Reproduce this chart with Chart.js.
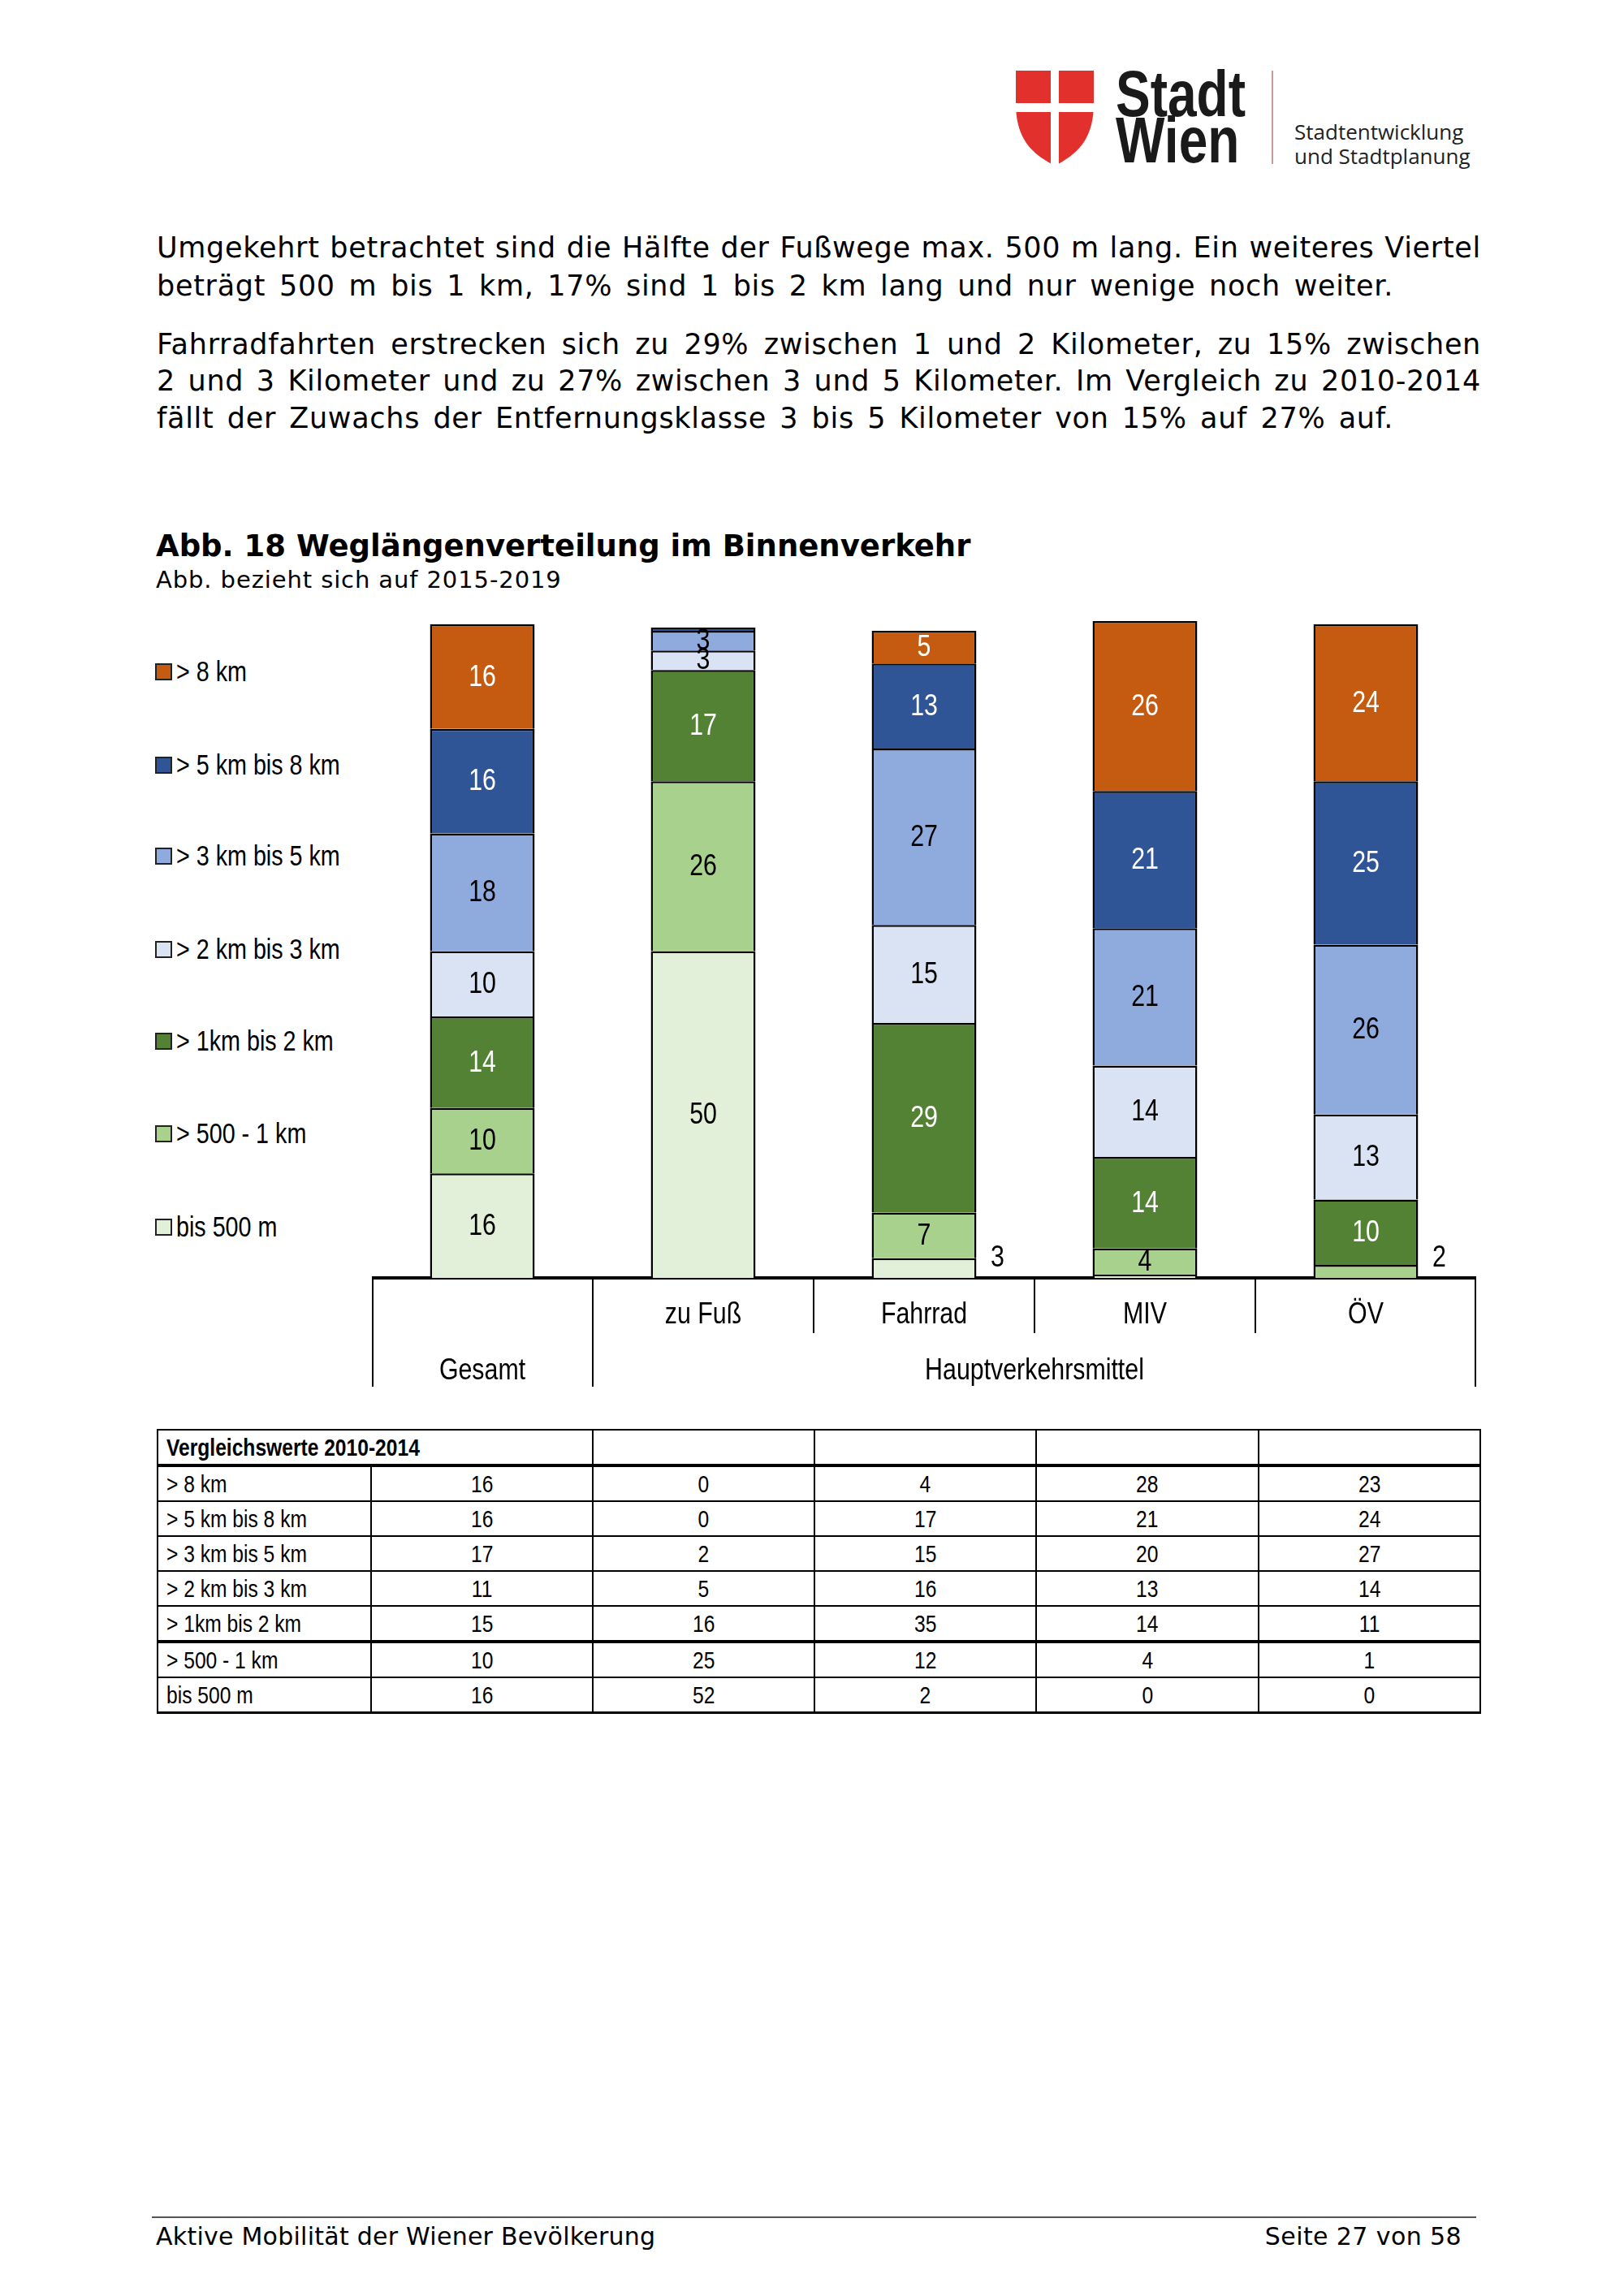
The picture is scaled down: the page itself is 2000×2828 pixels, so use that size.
<!DOCTYPE html>
<html>
<head>
<meta charset="utf-8">
<script src="https://cdn.jsdelivr.net/npm/chart.js@4.4.1/dist/chart.umd.min.js"></script>
<style>
  html, body { margin: 0; padding: 0; background: #fff; }
  body { width: 2000px; height: 2828px; position: relative; overflow: hidden; font-family: 'DejaVu Sans', Verdana, sans-serif; color: #000; }
  .abs { position: absolute; white-space: nowrap; }
  .txt { position: absolute; left: 193px; font-size: 35px; line-height: 45px; letter-spacing: 0.7px; white-space: nowrap; text-align: justify; text-align-last: justify; }
  .arial { font-family: 'Liberation Sans', Arial, sans-serif; }
  .nl { display: inline-block; transform: scaleX(0.82); transform-origin: left center; }
  .nc { display: inline-block; transform: scaleX(0.82); transform-origin: center center; }
  #legend .item { position: absolute; left: 191px; height: 40px; line-height: 40px; font-size: 35px; white-space: nowrap; }
  #legend .box { display: inline-block; width: 17px; height: 17px; border: 2px solid #222; vertical-align: middle; position: relative; top: -2px; }
  table { position: absolute; left: 193px; top: 1760px; border-collapse: collapse; table-layout: fixed; font-size: 30px; }
  td { border: 2px solid #000; height: 41px; padding: 0; text-align: center; line-height: 38px; overflow: visible; white-space: nowrap; }
  td.lab { text-align: left; padding-left: 10px; }
  tr.head td { border-bottom: 4px solid #000; font-weight: bold; }
  tr.thick td { border-bottom: 4px solid #000; }
  tr.last td { border-bottom: 3px solid #000; }
</style>
</head>
<body>

<!-- logo -->
<svg class="abs" style="left:1251px;top:87px" width="100" height="118" viewBox="0 0 100 118">
  <path d="M0 0 H96 V40 C96 80 80 100 52 115 H44 C16 100 0 80 0 40 Z" fill="#e2312c"/>
  <rect x="43" y="0" width="10" height="118" fill="#fff"/>
  <rect x="0" y="40" width="100" height="11" fill="#fff"/>
</svg>
<div class="abs arial" style="left:1374px;top:76px;font-size:80px;font-weight:bold;line-height:80px;color:#1a1a1a"><span class="nl" style="transform:scaleX(0.8)">Stadt</span></div>
<div class="abs arial" style="left:1374px;top:133px;font-size:80px;font-weight:bold;line-height:80px;color:#1a1a1a"><span class="nl" style="transform:scaleX(0.8)">Wien</span></div>
<div class="abs" style="left:1566px;top:87px;width:2px;height:115px;background:#c89a9a"></div>
<div class="abs" style="left:1594px;top:146px;font-family:'Open Sans',sans-serif;font-size:26px;line-height:32px;color:#222">Stadtentwicklung</div>
<div class="abs" style="left:1594px;top:176px;font-family:'Open Sans',sans-serif;font-size:26px;line-height:32px;color:#222">und Stadtplanung</div>

<!-- body text, each line justified to its width in the original -->
<div class="txt" style="top:283px;width:1631px">Umgekehrt betrachtet sind die Hälfte der Fußwege max. 500 m lang. Ein weiteres Viertel</div>
<div class="txt" style="top:330px;width:1523px">beträgt 500 m bis 1 km, 17% sind 1 bis 2 km lang und nur wenige noch weiter.</div>
<div class="txt" style="top:402px;width:1631px">Fahrradfahrten erstrecken sich zu 29% zwischen 1 und 2 Kilometer, zu 15% zwischen</div>
<div class="txt" style="top:447px;width:1631px">2 und 3 Kilometer und zu 27% zwischen 3 und 5 Kilometer. Im Vergleich zu 2010-2014</div>
<div class="txt" style="top:493px;width:1523px">fällt der Zuwachs der Entfernungsklasse 3 bis 5 Kilometer von 15% auf 27% auf.</div>

<div class="abs" style="left:192px;top:650px;font-size:37px;line-height:46px;font-weight:bold">Abb. 18 Weglängenverteilung im Binnenverkehr</div>
<div class="abs" style="left:192px;top:697px;font-size:29px;line-height:34px;letter-spacing:0.9px">Abb. bezieht sich auf 2015-2019</div>

<div id="legend" class="arial"></div>

<div class="abs" style="left:458px;top:750px;width:1360px;height:959px">
  <canvas id="chart"></canvas>
</div>

<table id="cmp" class="arial"></table>

<!-- footer -->
<div class="abs" style="left:187px;top:2730px;width:1631px;height:2px;background:#555"></div>
<div class="abs" style="left:192px;top:2737px;font-size:30px;line-height:36px;letter-spacing:0.25px">Aktive Mobilität der Wiener Bevölkerung</div>
<div class="abs" style="right:200px;top:2737px;font-size:30px;line-height:36px;letter-spacing:0.4px">Seite 27 von 58</div>

<script>
const tickLabels = ['', 'zu Fuß', 'Fahrrad', 'MIV', 'ÖV'];
const groupLabels = ['Gesamt', 'Hauptverkehrsmittel'];
const groupSpans = [[0, 0], [1, 4]];

const classes = ['bis 500 m', '> 500 - 1 km', '> 1km bis 2 km', '> 2 km bis 3 km', '> 3 km bis 5 km', '> 5 km bis 8 km', '> 8 km'];
const bis500 = [16, 50, 3, 0.5, 0];
const m500to1km = [10, 26, 7, 4, 2];
const km1to2 = [14, 17, 29, 14, 10];
const km2to3 = [10, 3, 15, 14, 13];
const km3to5 = [18, 3, 27, 21, 26];
const km5to8 = [16, 0.5, 13, 21, 25];
const over8 = [16, 0, 5, 26, 24];

// Vergleichswerte 2010-2014
const cmpRows = ['> 8 km', '> 5 km bis 8 km', '> 3 km bis 5 km', '> 2 km bis 3 km', '> 1km bis 2 km', '> 500 - 1 km', 'bis 500 m'];
const cmpGesamt = [16, 16, 17, 11, 15, 10, 16];
const cmpZuFuss = [0, 0, 2, 5, 16, 25, 52];
const cmpFahrrad = [4, 17, 15, 16, 35, 12, 2];
const cmpMIV = [28, 21, 20, 13, 14, 4, 0];
const cmpOEV = [23, 24, 27, 14, 11, 1, 0];

const colors = ['#e2f0d9', '#a9d18e', '#548235', '#dae3f3', '#8faadc', '#2f5597', '#c55a11'];
const textColors = ['#000', '#000', '#fff', '#000', '#000', '#fff', '#fff'];
const arial = "'Liberation Sans', Arial, sans-serif";

const series = [bis500, m500to1km, km1to2, km2to3, km3to5, km5to8, over8];

// Arial Narrow look: Liberation Sans squeezed horizontally
function narrowText(ctx, text, x, y) {
  ctx.save();
  ctx.translate(x, y);
  ctx.scale(0.82, 1);
  ctx.fillText(text, 0, 0);
  ctx.restore();
}

const segmentLabels = {
  id: 'segmentLabels',
  afterDatasetsDraw(chart) {
    const ctx = chart.ctx;
    ctx.save();
    ctx.font = '37px ' + arial;
    ctx.textAlign = 'center';
    ctx.textBaseline = 'middle';
    chart.data.datasets.forEach((ds, di) => {
      const meta = chart.getDatasetMeta(di);
      meta.data.forEach((bar, i) => {
        const v = ds.data[i];
        if (v < 1) return;
        const lowest = chart.data.datasets.findIndex(d => d.data[i] > 0) === di;
        const p = bar.getProps(['x', 'y', 'base', 'width'], true);
        if (lowest && v <= 3) {
          ctx.fillStyle = '#000';
          narrowText(ctx, String(v), p.x + p.width / 2 + 26, p.base - 24);
        } else {
          ctx.fillStyle = textColors[di];
          narrowText(ctx, String(v), p.x, (p.y + p.base) / 2 + 1);
        }
      });
    });
    ctx.restore();
  }
};

const categoryFrame = {
  id: 'categoryFrame',
  afterDraw(chart) {
    const ctx = chart.ctx;
    const x = chart.scales.x;
    const base = chart.chartArea.bottom;
    const n = tickLabels.length;
    const edge = k => {
      if (k === 0) return x.left;
      if (k === n) return x.right;
      return (x.getPixelForValue(k - 1) + x.getPixelForValue(k)) / 2;
    };
    const groupEdges = [];
    groupSpans.forEach(s => { groupEdges.push(s[0]); groupEdges.push(s[1] + 1); });
    ctx.save();
    ctx.strokeStyle = '#000';
    ctx.lineWidth = 2;
    for (let k = 0; k <= n; k++) {
      const long = groupEdges.includes(k);
      const px = Math.round(edge(k)) + (k === n ? -1 : (k === 0 ? 1 : 0));
      ctx.beginPath();
      ctx.moveTo(px, base);
      ctx.lineTo(px, base + (long ? 134 : 68));
      ctx.stroke();
    }
    ctx.fillStyle = '#000';
    ctx.font = '37px ' + arial;
    ctx.textAlign = 'center';
    ctx.textBaseline = 'middle';
    x.ticks.forEach((t, i) => {
      narrowText(ctx, x.getLabelForValue(i), x.getPixelForValue(i), base + 46);
    });
    groupSpans.forEach((s, gi) => {
      const cx = (x.getPixelForValue(s[0]) + x.getPixelForValue(s[1])) / 2;
      narrowText(ctx, groupLabels[gi], cx, base + 115);
    });
    ctx.restore();
  }
};

const chart = new Chart(document.getElementById('chart'), {
  type: 'bar',
  data: {
    labels: tickLabels,
    datasets: series.map((d, i) => ({
      label: classes[i],
      data: d,
      backgroundColor: colors[i],
      borderColor: '#000',
      borderWidth: 2.5,
      barPercentage: 0.474,
      categoryPercentage: 1,
      clip: false
    }))
  },
  options: {
    responsive: true,
    maintainAspectRatio: false,
    animation: false,
    devicePixelRatio: 1,
    layout: { padding: { top: 19, left: 0, right: 0, bottom: 0 } },
    plugins: { legend: { display: false }, tooltip: { enabled: false } },
    scales: {
      x: {
        stacked: true,
        grid: { display: false, drawTicks: false },
        border: { display: true, color: '#000', width: 4 },
        ticks: { display: false },
        afterFit: s => { s.height = 135; }
      },
      y: { stacked: true, display: false, min: 0, max: 100 }
    }
  },
  plugins: [segmentLabels, categoryFrame]
});

// legend built from the chart's own legend items, top class first
const legendTops = [807, 922, 1034, 1149, 1262, 1376, 1491];
const items = chart.options.plugins.legend.labels.generateLabels(chart).reverse();
const leg = document.getElementById('legend');
items.forEach((it, i) => {
  const d = document.createElement('div');
  d.className = 'item';
  d.style.top = legendTops[i] + 'px';
  d.innerHTML = '<span class="box" style="background:' + it.fillStyle + '"></span>';
  const s = document.createElement('span');
  s.className = 'nl';
  s.style.marginLeft = '5px';
  s.textContent = it.text;
  d.appendChild(s);
  leg.appendChild(d);
});

// comparison table
const colW = [263, 273, 273, 273, 274, 273];
const tbl = document.getElementById('cmp');
let html = '<colgroup>' + colW.map(w => '<col style="width:' + w + 'px">').join('') + '</colgroup>';
html += '<tr class="head"><td class="lab" colspan="2"><span class="nl">Vergleichswerte 2010-2014</span></td><td></td><td></td><td></td><td></td></tr>';
cmpRows.forEach((r, i) => {
  const cls = i === 4 ? ' class="thick"' : (i === cmpRows.length - 1 ? ' class="last"' : '');
  html += '<tr' + cls + '><td class="lab"><span class="nl">' + r + '</span></td>' +
    [cmpGesamt, cmpZuFuss, cmpFahrrad, cmpMIV, cmpOEV].map(c => '<td><span class="nc">' + c[i] + '</span></td>').join('') + '</tr>';
});
tbl.innerHTML = html;
tbl.style.width = colW.reduce((a, b) => a + b, 0) + 'px';
</script>
</body>
</html>
